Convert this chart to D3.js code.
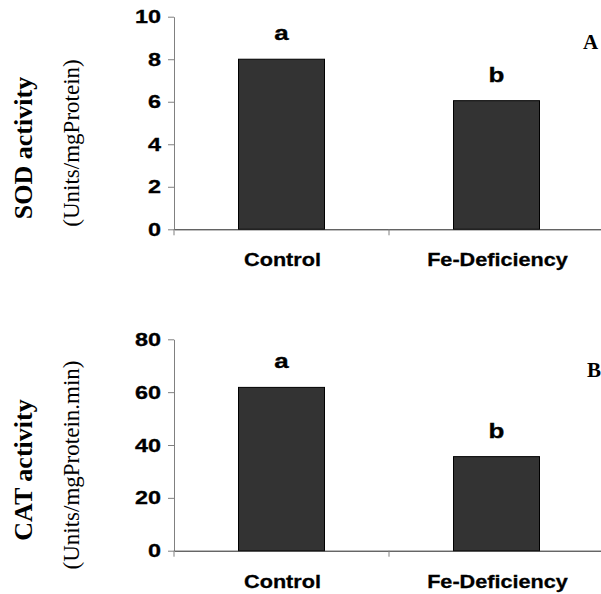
<!DOCTYPE html>
<html><head><meta charset="utf-8">
<script src="https://cdn.jsdelivr.net/npm/d3@7"></script>
<style>body{margin:0;background:#fff}svg{display:block}</style>
</head><body>
<svg id="c" width="601" height="594"></svg>
<script>
const categories = ["Control", "Fe-Deficiency"];
const sodValues = [8.0, 6.05];
const catValues = [61.8, 35.6];
const sodLetters = ["a", "b"];
const catLetters = ["a", "b"];
const sodTicks = [0, 2, 4, 6, 8, 10];
const catTicks = [0, 20, 40, 60, 80];

const svg = d3.select("#c");
const AX = 174;
const x = d3.scaleBand().domain(categories).range([AX, 604]);

function stext(g, str, tx, ty, opt) {
  return g.append("text")
    .attr("transform", `translate(${tx},${ty}) scale(${opt.sx || 1},1)`)
    .attr("text-anchor", opt.anchor || "middle")
    .attr("font-family", opt.family || "'Liberation Sans', Arial, sans-serif")
    .attr("font-weight", opt.weight || "bold")
    .attr("font-size", opt.size)
    .attr("stroke", "#000").attr("stroke-width", 0.3)
    .attr("fill", "#000")
    .text(str);
}

function panel(cfg) {
  const g = svg.append("g");
  const y = d3.scaleLinear().domain([0, cfg.max]).range([cfg.y0, cfg.yTop]);
  const bw = x.bandwidth();
  g.selectAll("rect.bar").data(categories).enter().append("rect")
    .attr("x", d => x(d) + bw * 0.3)
    .attr("width", bw * 0.4)
    .attr("y", (d, i) => y(cfg.values[i]))
    .attr("height", (d, i) => y(0) - y(cfg.values[i]))
    .attr("fill", "#333333").attr("stroke", "#000").attr("stroke-width", 1);
  const ya = g.append("g").attr("transform", `translate(${AX},0)`)
    .call(d3.axisLeft(y).tickValues(cfg.ticks).tickSize(6).tickSizeOuter(0).tickFormat(""));
  ya.select(".domain").attr("stroke", "#808080");
  ya.selectAll(".tick line").attr("stroke", "#808080");
  cfg.ticks.forEach(t => stext(g, String(t), 161, y(t) + 6.5, {size: 18, anchor: "end", sx: 1.3}));
  const xa = g.append("g").attr("transform", `translate(0,${y(0)})`)
    .call(d3.axisBottom(x).tickSize(0).tickFormat(""));
  xa.select(".domain").attr("stroke", "#222");
  [AX, x(categories[1])].forEach(px => g.append("line")
    .attr("x1", px).attr("x2", px).attr("y1", y(0)).attr("y2", y(0) + 6)
    .attr("stroke", "#808080"));
  categories.forEach(c => stext(g, c, x(c) + bw / 2 + 1, y(0) + 37, {size: 18.5, sx: 1.17}));
  categories.forEach((c, i) => stext(g, cfg.letters[i], x(c) + bw / 2, y(cfg.values[i]) - 19, {size: 20, sx: 1.3}));
  g.append("text").attr("x", cfg.tagX).attr("y", cfg.tagY).attr("text-anchor", "start")
    .attr("font-family", "'Liberation Serif', 'Times New Roman', serif").attr("font-weight", "bold")
    .attr("font-size", 21).text(cfg.tag);
  g.append("text").attr("transform", `translate(32,${cfg.t1y}) rotate(-90)`)
    .attr("text-anchor", "middle").attr("font-family", "'Liberation Serif', 'Times New Roman', serif")
    .attr("font-weight", "bold").attr("font-size", 26).text(cfg.title1);
  g.append("text").attr("transform", `translate(79,${cfg.t2y}) rotate(-90)`)
    .attr("text-anchor", "middle").attr("font-family", "'Liberation Serif', 'Times New Roman', serif")
    .attr("font-size", 23).text(cfg.title2);
}

panel({values: sodValues, letters: sodLetters, ticks: sodTicks, max: 10, y0: 229.3, yTop: 16.7,
  tag: "A", tagX: 583, tagY: 49, title1: "SOD activity", t1y: 148, title2: "(Units/mgProtein)", t2y: 143});
panel({values: catValues, letters: catLetters, ticks: catTicks, max: 80, y0: 550.7, yTop: 339.3,
  tag: "B", tagX: 587, tagY: 377, title1: "CAT activity", t1y: 470, title2: "(Units/mgProtein.min)", t2y: 465});
</script>
</body></html>
